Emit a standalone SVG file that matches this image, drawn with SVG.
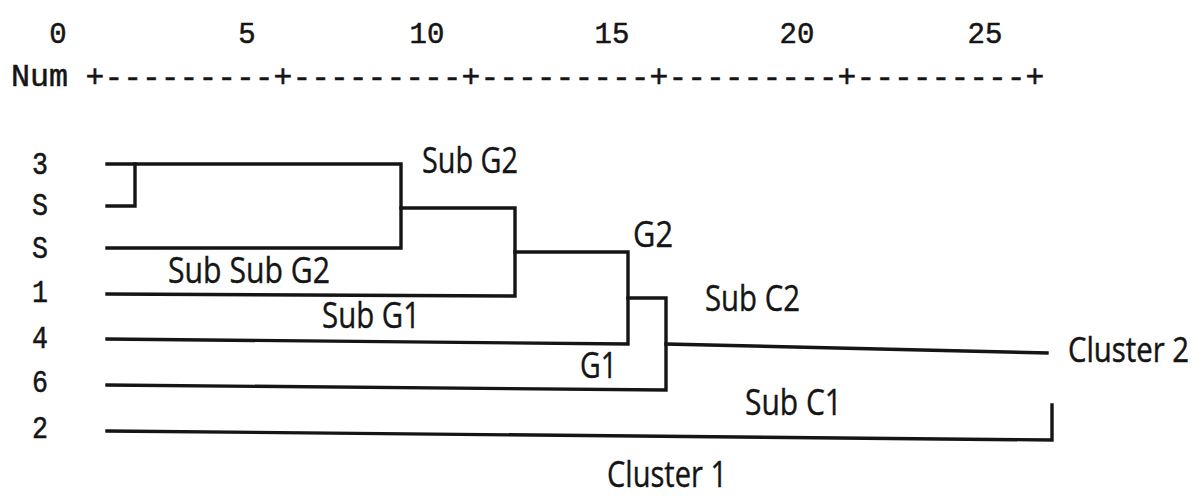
<svg xmlns="http://www.w3.org/2000/svg" width="1203" height="498" viewBox="0 0 1203 498">
  <style>
    .mono { font-family: "Liberation Mono", "DejaVu Sans Mono", monospace; fill: #151515; stroke: #151515; stroke-width: 0.5; }
    .lbl { font-family: "Open Sans", "Noto Sans", "Liberation Sans", sans-serif; font-size: 36px; fill: #151515; stroke: #151515; stroke-width: 0.4; }
    .ln { fill: none; stroke: #151515; stroke-width: 3.4; stroke-linecap: square; stroke-linejoin: miter; }
  </style>
  <rect width="1203" height="498" fill="#ffffff"/>

  <g id="axis">
    <text class="mono" font-size="29" text-anchor="middle" x="58" y="43">0</text>
    <text class="mono" font-size="29" text-anchor="middle" x="247" y="43">5</text>
    <text class="mono" font-size="29" text-anchor="middle" x="427" y="43">10</text>
    <text class="mono" font-size="29" text-anchor="middle" x="612" y="43">15</text>
    <text class="mono" font-size="29" text-anchor="middle" x="797" y="43">20</text>
    <text class="mono" font-size="29" text-anchor="middle" x="985" y="43">25</text>
    <text class="mono" font-size="31" x="11" y="86" textLength="57" lengthAdjust="spacingAndGlyphs">Num</text>
    <text class="mono" font-size="31" x="85.6" y="87" textLength="958.8" lengthAdjust="spacingAndGlyphs">+---------+---------+---------+---------+---------+</text>
  </g>

  <g id="leaf-3"><text class="mono" font-size="32" x="32" y="174" textLength="16" lengthAdjust="spacingAndGlyphs">3</text></g>
  <g id="leaf-S1"><text class="mono" font-size="32" x="32" y="215" textLength="16" lengthAdjust="spacingAndGlyphs">S</text></g>
  <g id="leaf-S2"><text class="mono" font-size="32" x="32" y="258" textLength="16" lengthAdjust="spacingAndGlyphs">S</text></g>
  <g id="leaf-1"><text class="mono" font-size="32" x="32" y="302" textLength="16" lengthAdjust="spacingAndGlyphs">1</text></g>
  <g id="leaf-4"><text class="mono" font-size="32" x="32" y="348" textLength="16" lengthAdjust="spacingAndGlyphs">4</text></g>
  <g id="leaf-6"><text class="mono" font-size="32" x="32" y="392" textLength="16" lengthAdjust="spacingAndGlyphs">6</text></g>
  <g id="leaf-2"><text class="mono" font-size="32" x="32" y="438" textLength="16" lengthAdjust="spacingAndGlyphs">2</text></g>

  <g id="connectors">
    <path class="ln" d="M107,164 H401 V248 H107"/>
    <path class="ln" d="M107,206 H135 V164"/>
    <path class="ln" d="M401,208 H515 V296 L107,294"/>
    <path class="ln" d="M515,252 H628 V344 L107,339"/>
    <path class="ln" d="M628,298 H666 V390 L107,385"/>
    <path class="ln" d="M666,344 L1047,353"/>
    <path class="ln" d="M107,431 L1052,440 V405"/>
  </g>

  <g id="node-subg2"><text class="lbl" x="422" y="173" textLength="96" lengthAdjust="spacingAndGlyphs">Sub G2</text></g>
  <g id="node-subsubg2"><text class="lbl" x="168" y="283" textLength="162" lengthAdjust="spacingAndGlyphs">Sub Sub G2</text></g>
  <g id="node-subg1"><text class="lbl" x="322" y="328" textLength="98" lengthAdjust="spacingAndGlyphs">Sub G1</text></g>
  <g id="node-g2"><text class="lbl" x="633" y="247" textLength="40" lengthAdjust="spacingAndGlyphs">G2</text></g>
  <g id="node-g1"><text class="lbl" x="580" y="378" textLength="37" lengthAdjust="spacingAndGlyphs">G1</text></g>
  <g id="node-subc2"><text class="lbl" x="705" y="311" textLength="95" lengthAdjust="spacingAndGlyphs">Sub C2</text></g>
  <g id="node-subc1"><text class="lbl" x="745" y="415" textLength="97" lengthAdjust="spacingAndGlyphs">Sub C1</text></g>
  <g id="node-cluster2"><text class="lbl" style="font-size:30px" transform="translate(1068,362) scale(1,1.18)" x="0" y="0" textLength="121" lengthAdjust="spacingAndGlyphs">Cluster 2</text></g>
  <g id="node-cluster1"><text class="lbl" x="607" y="487" textLength="120" lengthAdjust="spacingAndGlyphs">Cluster 1</text></g>
</svg>
